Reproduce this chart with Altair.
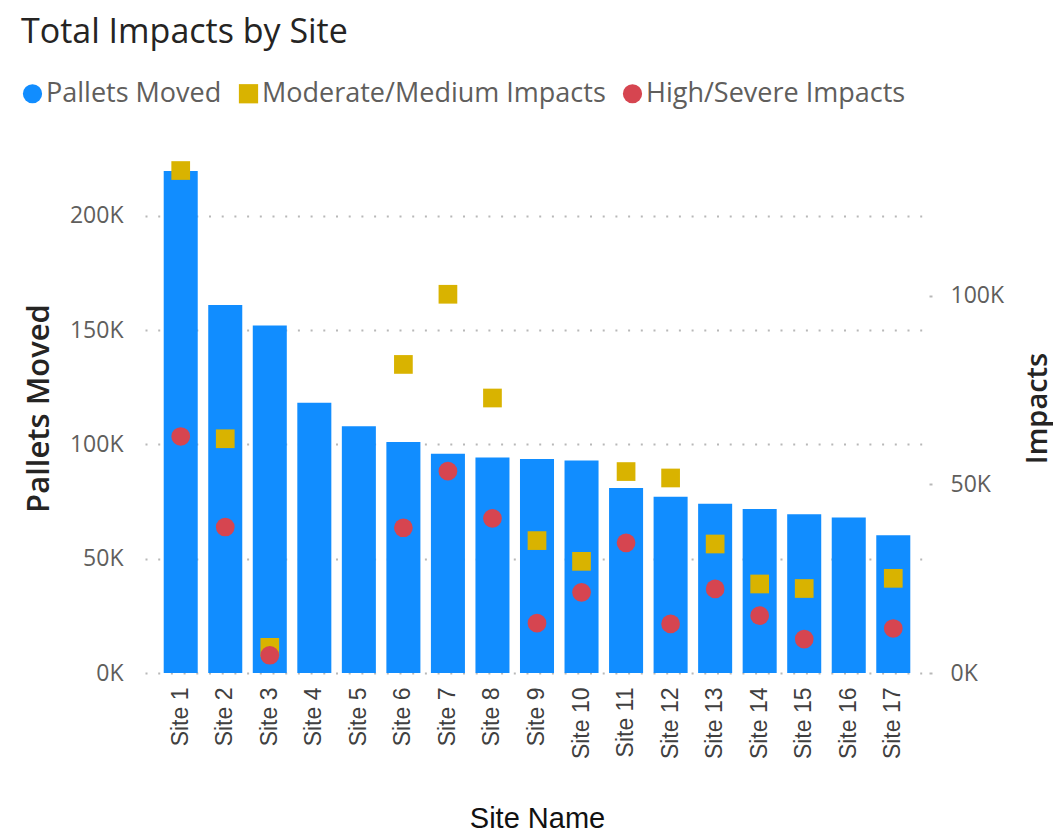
import altair as alt
import pandas as pd

sites = ["Site 1", "Site 2", "Site 3", "Site 4", "Site 5", "Site 6", "Site 7", "Site 8", "Site 9",
         "Site 10", "Site 11", "Site 12", "Site 13", "Site 14", "Site 15", "Site 16", "Site 17"]
pallets_moved = [219600, 160900, 152000, 118200, 107900, 101000, 95900, 94200, 93600,
                 92900, 80900, 77100, 74000, 71700, 69400, 68000, 60200]
moderate_impacts = [133200, 62100, 6800, None, None, 81800, 100400, 72900, 35100,
                    29600, 53400, 51700, 34200, 23600, 22400, None, 25100]
high_impacts = [62700, 38700, 4700, None, None, 38500, 53500, 41000, 13200,
                21400, 34500, 13000, 22300, 15200, 9000, None, 11800]

series_names = ["Pallets Moved", "Moderate/Medium Impacts", "High/Severe Impacts"]
series_colors = ["#118DFF", "#D9B300", "#D64550"]
series_shapes = ["circle", "square", "circle"]
left_ticks = [0, 50000, 100000, 150000, 200000]
right_ticks = [0, 50000, 100000]

bars_df = pd.DataFrame({"site": sites, "value": pallets_moved, "series": series_names[0]})
rows = []
for name, vals in ((series_names[1], moderate_impacts), (series_names[2], high_impacts)):
    for s, v in zip(sites, vals):
        if v is not None:
            rows.append({"site": s, "value": v, "series": name})
pts_df = pd.DataFrame(rows)

UI_FONT = "Open Sans"

color_scale = alt.Scale(domain=series_names, range=series_colors)
shape_scale = alt.Scale(domain=series_names, range=series_shapes)

legend = alt.Legend(
    orient="none", legendX=-126, legendY=-63, direction="horizontal", columns=3,
    title=None, symbolSize=370, labelFontSize=27, labelFont=UI_FONT, labelColor="#605E5C",
    columnPadding=13, labelOffset=0, labelLimit=500, symbolStrokeWidth=0, symbolOpacity=1,
    symbolType="circle",
)

x_enc = alt.X(
    "site:N", sort=sites,
    scale=alt.Scale(paddingInner=0.236, paddingOuter=0.42),
    axis=alt.Axis(
        title="Site Name", labelAngle=270, labelFont="Liberation Sans", labelFontSize=23,
        labelColor="#404040", labelPadding=14, ticks=False, domain=False,
        titleFont="Liberation Sans", titleFontSize=29, titleFontWeight="normal",
        titleColor="#111111", titleY=145, titleBaseline="middle",
    ),
)

bars = alt.Chart(bars_df).mark_bar(opacity=1).encode(
    x=x_enc,
    y=alt.Y(
        "value:Q",
        scale=alt.Scale(domain=[0, 231800], nice=False, zero=True),
        axis=alt.Axis(
            orient="left", values=left_ticks, labelExpr="format(datum.value/1000,'d') + 'K'",
            grid=True, gridDash=[2, 10.7], gridColor="#B8B8B8", gridWidth=2,
            domain=False, ticks=False, labelPadding=22, labelFont=UI_FONT, labelFontSize=23,
            labelColor="#605E5C", title="Pallets Moved", titleFont=UI_FONT, titleFontSize=31,
            titleFontWeight=600, titleColor="#252423", titleX=-106, titleY=265,
            titleBaseline="middle", titleAngle=270,
        ),
    ),
    color=alt.Color("series:N", scale=color_scale, legend=legend),
)

points = alt.Chart(pts_df).mark_point(filled=True, opacity=1, size=350).encode(
    x=alt.X("site:N", sort=sites),
    y=alt.Y(
        "value:Q",
        scale=alt.Scale(domain=[0, 140500], nice=False, zero=True),
        axis=alt.Axis(
            orient="right", values=right_ticks, labelExpr="format(datum.value/1000,'d') + 'K'",
            grid=False, domain=False, ticks=True, tickSize=3, tickWidth=2, tickColor="#B8B8B8",
            labelPadding=18, labelFont=UI_FONT, labelFontSize=23, labelColor="#605E5C",
            title="Impacts", titleFont=UI_FONT, titleFontSize=29, titleFontWeight=600,
            titleColor="#252423", titleX=108, titleY=265, titleBaseline="middle", titleAngle=270,
        ),
    ),
    color=alt.Color("series:N", scale=color_scale, legend=legend),
    shape=alt.Shape("series:N", scale=shape_scale, legend=legend),
)

chart = alt.layer(bars, points).resolve_scale(y="independent").properties(
    width=784,
    height=530,
    autosize=alt.AutoSizeParams(type="none"),
    padding={"left": 137, "top": 135, "right": 124, "bottom": 160},
    background="white",
    title=alt.TitleParams(
        "Total Impacts by Site", anchor="start", frame="bounds", fontSize=34, font=UI_FONT,
        fontWeight="normal", color="#252423", offset=30, dx=2,
    ),
).configure_view(stroke=None)

chart.save("out.html", embed_options={"renderer": "svg", "actions": False})
